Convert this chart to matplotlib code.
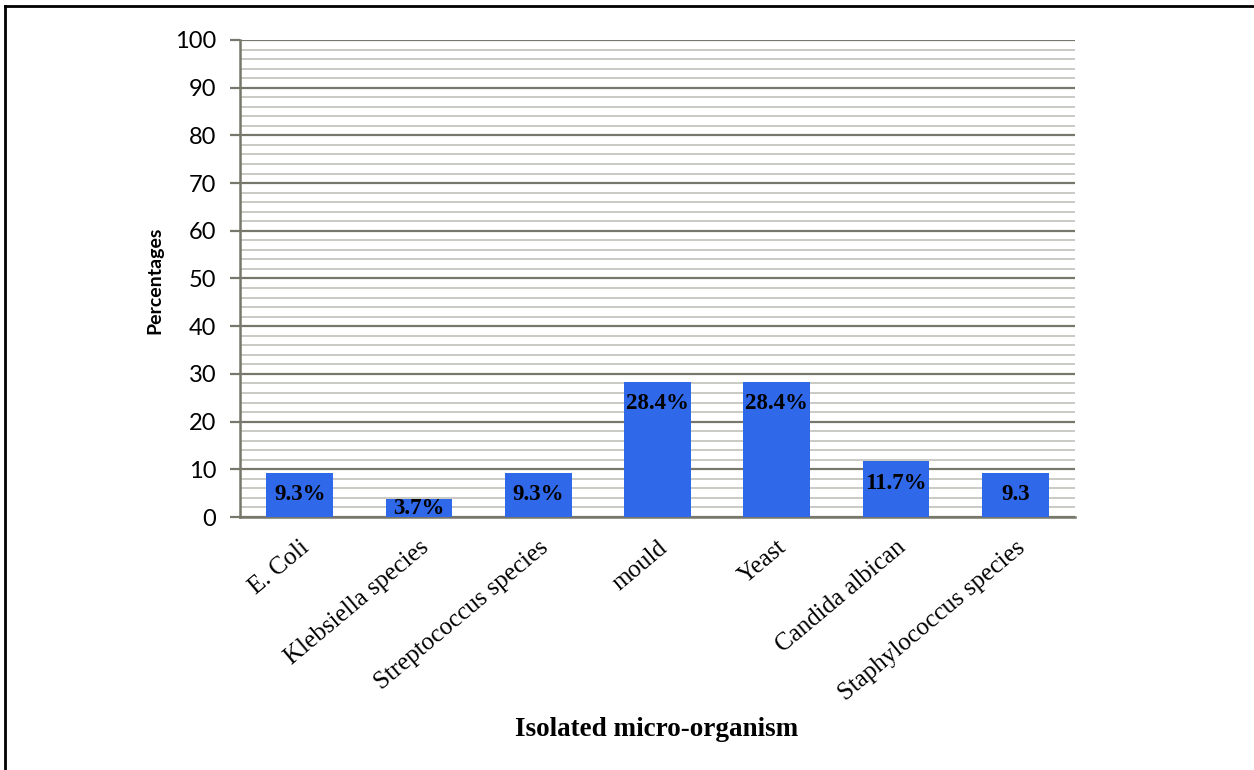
import matplotlib.pyplot as plt
from matplotlib.lines import Line2D
from matplotlib.ticker import MultipleLocator

organisms = ["E. Coli", "Klebsiella species", "Streptococcus species", "mould",
             "Yeast", "Candida albican", "Staphylococcus species"]
percentages = [9.3, 3.7, 9.3, 28.4, 28.4, 11.7, 9.3]
bar_labels = ["9.3%", "3.7%", "9.3%", "28.4%", "28.4%", "11.7%", "9.3"]

fig = plt.figure(figsize=(12.54, 7.70), dpi=100)
ax = fig.add_axes([240 / 1254, 1 - 517 / 770, 835 / 1254, 477 / 770])

x = range(len(organisms))
ax.bar(x, percentages, width=0.56, color="#3068ea", zorder=3)

# labels sit just inside the top of each bar (Excel "inside end")
for i, (v, lab) in enumerate(zip(percentages, bar_labels)):
    yc = max(v - 4.6, 1.7)
    ax.text(i, yc, lab, ha="center", va="center", fontsize=16.5,
            fontweight="bold", family="Liberation Serif", zorder=4)

ax.set_xlim(-0.5, len(organisms) - 0.5)
ax.set_ylim(0, 100)
ax.yaxis.set_major_locator(MultipleLocator(10))
ax.yaxis.set_minor_locator(MultipleLocator(2))
ax.grid(which="major", axis="y", color="#77776b", linewidth=1.6, zorder=1)
ax.grid(which="minor", axis="y", color="#bcbcb4", linewidth=1.1, zorder=1)
ax.set_axisbelow(True)

for s in ["top", "right"]:
    ax.spines[s].set_visible(False)
for s in ["left", "bottom"]:
    ax.spines[s].set_color("#77776b")
    ax.spines[s].set_linewidth(1.8)

ax.tick_params(axis="y", which="major", length=7, width=1.6, color="#77776b",
               labelsize=17, pad=10)
ax.tick_params(axis="y", which="minor", length=0)
ax.tick_params(axis="x", length=0, pad=14)
for t in ax.get_yticklabels():
    t.set_family("Lato")

ax.set_xticks(list(x))
ax.set_xticklabels(organisms, rotation=40, ha="right", rotation_mode="anchor",
                   family="Liberation Serif", fontsize=18)

fig.text(155 / 1254, 1 - 280 / 770, "Percentages", rotation=90, ha="center",
         va="center", family="Lato", fontweight="bold", fontsize=14)
fig.text(657 / 1254, 1 - 729 / 770, "Isolated micro-organism", ha="center",
         va="center", family="Liberation Serif", fontweight="bold", fontsize=19.5)

# frame lines on the left and top edge of the figure
fig.add_artist(Line2D([5 / 1254, 5 / 1254], [0, 1 - 6 / 770], color="black", linewidth=2))
fig.add_artist(Line2D([5 / 1254, 1], [1 - 6 / 770, 1 - 6 / 770], color="black", linewidth=2))

plt.savefig("out.png")
